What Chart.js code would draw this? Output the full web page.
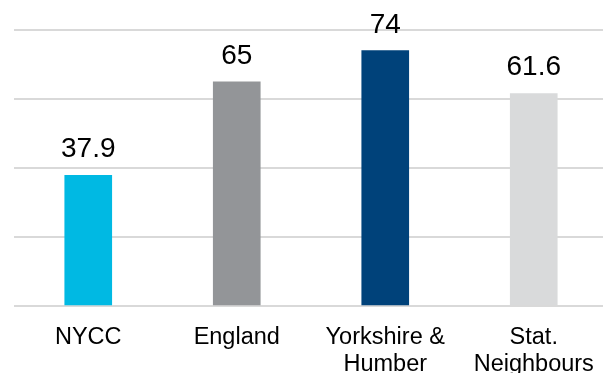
<!DOCTYPE html>
<html>
<head>
<meta charset="utf-8">
<script src="https://cdn.jsdelivr.net/npm/chart.js@4"></script>
<style>
  html, body { margin: 0; padding: 0; background: #fff; overflow: hidden; }
  #wrap { width: 608px; height: 373px; }
</style>
</head>
<body>
<div id="wrap"><canvas id="myChart"></canvas></div>
<script>
const categorias = [['NYCC'], ['England'], ['Yorkshire &', 'Humber'], ['Stat.', 'Neighbours']];
const valores = [37.9, 65, 74, 61.6];
const cores = ['#00b9e3', '#939598', '#00427a', '#d9dadb'];
const yMax = 80;
const yStep = 20;

// rótulos de valor em cima de cada barra
const rotulosPlugin = {
    id: 'rotulos',
    afterDatasetsDraw(chart) {
        const ctx = chart.ctx;
        const meta = chart.getDatasetMeta(0);
        ctx.save();
        ctx.font = '28px "Liberation Sans", Arial, sans-serif';
        ctx.fillStyle = '#000';
        ctx.textAlign = 'center';
        ctx.textBaseline = 'alphabetic';
        meta.data.forEach((bar, i) => {
            ctx.fillText(String(valores[i]), bar.x, bar.y - 18);
        });
        ctx.restore();
    }
};

const ctx = document.getElementById('myChart').getContext('2d');
new Chart(ctx, {
    type: 'bar',
    data: {
        labels: categorias,
        datasets: [{
            data: valores,
            backgroundColor: cores,
            borderWidth: 0,
            barThickness: 47
        }]
    },
    options: {
        responsive: true,
        maintainAspectRatio: false,
        animation: false,
        layout: { padding: { top: 30, left: 0, right: 0, bottom: 0 } },
        plugins: {
            legend: { display: false },
            tooltip: { enabled: false }
        },
        scales: {
            x: {
                grid: { display: false },
                border: { display: false },
                ticks: {
                    color: '#000',
                    padding: 10,
                    font: { family: '"Liberation Sans", Arial, sans-serif', size: 23.5, lineHeight: 1.15 }
                },
                afterFit(scale) { scale.height = 67; }
            },
            y: {
                min: 0,
                max: yMax,
                ticks: { display: false, stepSize: yStep },
                grid: { color: '#d9d9d9', lineWidth: 2, drawTicks: false },
                border: { display: false },
                afterFit(scale) { scale.width = 14; }
            }
        }
    },
    plugins: [rotulosPlugin]
});
</script>
</body>
</html>
